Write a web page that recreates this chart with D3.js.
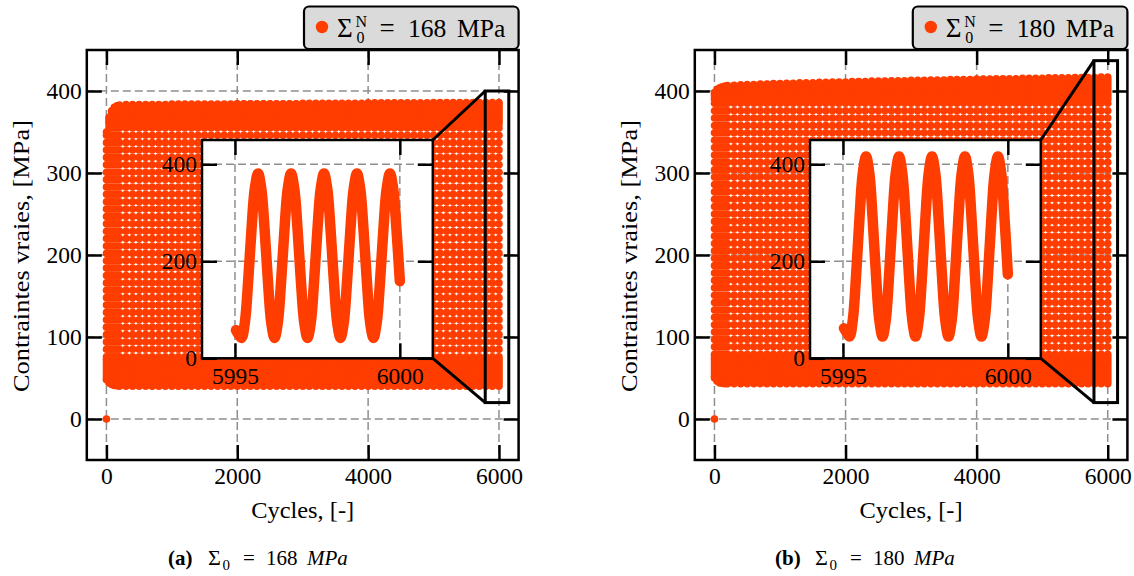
<!DOCTYPE html>
<html><head><meta charset="utf-8">
<script src="https://cdn.jsdelivr.net/npm/d3@7"></script>
<style>
body{margin:0;background:#fff}
svg{display:block}
text{font-family:"Liberation Serif","Times New Roman",serif;fill:#000}
</style>
</head><body>
<svg id="c" width="1134" height="576" font-family="Liberation Serif, serif"></svg>
<script>
// ---------------- data ----------------
const cycles = [1,40,80,120,160,200,300,400,500,600,700,800,900,1000,1100,1200,1300,1400,1500,1600,1700,1800,1900,2000,2100,2200,2300,2400,2500,2600,2700,2800,2900,3000,3100,3200,3300,3400,3500,3600,3700,3800,3900,4000,4100,4200,4300,4400,4500,4600,4700,4800,4900,5000,5100,5200,5300,5400,5500,5600,5700,5800,5900,6000];
const maxA = [350,368,376,380,382,383,
383.5,383.5,383.5,383.5,383.5,383.5,383.5,
384,384,384,384,384,384,384,384,384,384,
384.5,384.5,384.5,384.5,384.5,384.5,384.5,384.5,384.5,384.5,
385,385,385,385,385,385,385,385,385,385,
385.5,385.5,385.5,385.5,385.5,385.5,385.5,385.5,385.5,385.5,
386,386,386,386,386,386,386,386,386,386,386];
const minA = [48,44,42,41,40.5,40,
40,40,40,40,40,40,40,
40,40,40,40,40,40,40,40,40,40,
40,40,40,40,40,40,40,40,40,40,
40,40,40,40,40,40,40,40,40,40,
40,40,40,40,40,40,40,40,40,40,
40,40,40,40,40,40,40,40,40,40,40];
const maxB = [398,402,404,405,406,406.5,
407,407.5,408,408,408.5,408.5,409,
409,409.5,409.5,410,410,410,410.5,410.5,411,411,
411,411.5,411.5,411.5,412,412,412,412.5,412.5,412.5,
413,413,413,413.5,413.5,413.5,414,414,414,414,
414.5,414.5,414.5,415,415,415,415,415.5,415.5,415.5,
415.5,416,416,416,416,416.5,416.5,416.5,416.5,417,417];
const minB = [50,46,44,43.5,43,43,
43,43,43,43,43,43,43,
43,43,43,43,43,43,43,43,43,43,
43,43,43,43,43,43,43,43,43,43,
43,43,43,43,43,43,43,43,43,43,
43,43,43,43,43,43,43,43,43,43,
43,43,43,43,43,43,43,43,43,43,43];
// stress levels recorded within each cycle (MPa)
const levelsA = [40,43,46,49,52,55,58,61,64,67,70,73,76,85,94,103,112,121,130,139,148,157,166,175,184,193,202,211,220,229,238,247,256,265,274,283,292,301,310,319,328,337,346,355,360,363,366,369,372,375,378,381,384,387];
const levelsB = [43,46,49,52,55,58,61,64,67,70,73,76,79,88,97,106,115,124,133,142,151,160,169,178,187,196,205,214,223,232,241,250,259,268,277,286,295,304,313,322,331,340,349,358,367,376,385,390,393,396,399,402,405,408,411,414,417];
const startPoint = [0, 0];
// inset: last five cycles
const insetT = [5995.03,5995.12,5995.2,5995.3,5995.4,5995.5,5995.6,5995.7,5995.8,5995.9,5996.0,5996.1,5996.2,5996.3,5996.4,5996.5,5996.6,5996.7,5996.8,5996.9,5997.0,5997.1,5997.2,5997.3,5997.4,5997.5,5997.6,5997.7,5997.8,5997.9,5998.0,5998.1,5998.2,5998.3,5998.4,5998.5,5998.6,5998.7,5998.8,5998.9,5999.0,5999.1,5999.2,5999.3,5999.4,5999.5,5999.6,5999.7,5999.8,5999.9,6000.0];
const insetA = [58,48,42,74,159,264,349,381,349,264,159,74,42,74,159,264,349,381,349,264,159,74,42,74,159,264,349,381,349,264,159,74,42,74,159,264,349,381,349,264,159,74,42,74,159,264,349,381,349,264,159];
const insetB = [62,52,45,80,173,288,381,416,381,288,173,80,45,80,173,288,381,416,381,288,173,80,45,80,173,288,381,416,381,288,173,80,45,80,173,288,381,416,381,288,173,80,45,80,173,288,381,416,381,288,173];
// ticks
const xTicks = [0,2000,4000,6000];
const yTicks = [0,100,200,300,400];
const insetXTicks = [5995,6000];
const insetYTicks = [0,200,400];
// zoom rectangles [x0,x1,y0,y1]
const rectA = [5790,6150,20,400];
const rectB = [5790,6150,20,437];
const amplitudes = ["168","180"];
const letters = ["(a)","(b)"];

// ---------------- drawing ----------------
const RED = "#ff3d00";
const FONT = "Liberation Serif, Times New Roman, serif";
const svg = d3.select("#c");
const TOP = 50, BOTTOM = 460;
const xDomain = [-300,6300], yDomain = [-50,450];
const insetXDomain = [5994,6001], insetYDomain = [0,450];
const FS = 23.5;

const panels = [
  {id:"a", left:86.8, right:518.6, cyc:cycles, max:maxA, min:minA, levels:levelsA, inset:insetA, rect:rectA, amp:amplitudes[0], letter:letters[0], capStart:168},
  {id:"b", left:694.8, right:1127.4, cyc:cycles, max:maxB, min:minB, levels:levelsB, inset:insetB, rect:rectB, amp:amplitudes[1], letter:letters[1], capStart:775}
];

function styleAxis(g, size){
  g.attr("font-size", null).attr("font-family", FONT);
  g.select(".domain").remove();
  g.selectAll(".tick line").attr("stroke","#000").attr("stroke-width",2.5);
  g.selectAll(".tick text").attr("font-size", size).attr("font-family", FONT).attr("fill","#000");
}

panels.forEach(p => {
  const g = svg.append("g");
  const x = d3.scaleLinear().domain(xDomain).range([p.left, p.right]);
  const y = d3.scaleLinear().domain(yDomain).range([BOTTOM, TOP]);
  const clipId = "clip" + p.id;
  svg.append("clipPath").attr("id", clipId).append("rect")
    .attr("x", p.left).attr("y", TOP).attr("width", p.right - p.left).attr("height", BOTTOM - TOP);

  // grid
  const grid = g.append("g").attr("stroke","#8f8f8f").attr("stroke-width",1.5).attr("stroke-dasharray","8,4");
  grid.selectAll(".gx").data(xTicks).join("line").attr("class","gx")
    .attr("x1", d=>x(d)).attr("x2", d=>x(d)).attr("y1", TOP).attr("y2", BOTTOM);
  grid.selectAll(".gy").data(yTicks).join("line").attr("class","gy")
    .attr("y1", d=>y(d)).attr("y2", d=>y(d)).attr("x1", p.left).attr("x2", p.right);

  // scatter
  const pts = [startPoint];
  p.cyc.forEach((c,i) => {
    const lo = p.min[i], hi = p.max[i];
    pts.push([c, lo]);
    p.levels.forEach(l => { if (l > lo && l < hi) pts.push([c, l]); });
    pts.push([c, hi]);
  });
  g.append("g").attr("clip-path", `url(#${clipId})`)
    .selectAll("circle").data(pts).join("circle")
    .attr("cx", d=>x(d[0])).attr("cy", d=>y(d[1])).attr("r", 3.8).attr("fill", RED);

  // axes (inward ticks on all sides)
  g.append("g").attr("transform",`translate(0,${BOTTOM})`)
    .call(d3.axisBottom(x).tickValues(xTicks).tickSizeInner(-15).tickSizeOuter(0).tickPadding(7.5).tickFormat(d3.format("d")))
    .call(a=>styleAxis(a,FS));
  g.append("g").attr("transform",`translate(0,${TOP})`)
    .call(d3.axisTop(x).tickValues(xTicks).tickSizeInner(-15).tickSizeOuter(0).tickFormat(""))
    .call(a=>styleAxis(a,FS));
  g.append("g").attr("transform",`translate(${p.left},0)`)
    .call(d3.axisLeft(y).tickValues(yTicks).tickSizeInner(-15).tickSizeOuter(0).tickPadding(5).tickFormat(d3.format("d")))
    .call(a=>styleAxis(a,FS));
  g.append("g").attr("transform",`translate(${p.right},0)`)
    .call(d3.axisRight(y).tickValues(yTicks).tickSizeInner(-15).tickSizeOuter(0).tickFormat(""))
    .call(a=>styleAxis(a,FS));
  g.append("rect").attr("x",p.left).attr("y",TOP).attr("width",p.right-p.left).attr("height",BOTTOM-TOP)
    .attr("fill","none").attr("stroke","#000").attr("stroke-width",2.5);

  // axis labels
  g.append("text").attr("x",(p.left+p.right)/2).attr("y",518).attr("text-anchor","middle").attr("font-family",FONT)
    .attr("font-size",FS).attr("textLength",103).attr("lengthAdjust","spacingAndGlyphs").text("Cycles, [-]");
  g.append("text").attr("transform",`translate(${p.left-57.5},256) rotate(-90)`).attr("text-anchor","middle").attr("font-family",FONT)
    .attr("font-size",FS).attr("textLength",272).attr("lengthAdjust","spacingAndGlyphs").text("Contraintes vraies, [MPa]");

  // zoom rectangle
  const rx0 = x(p.rect[0]), rx1 = x(p.rect[1]), ry0 = y(p.rect[2]), ry1 = y(p.rect[3]);
  // inset
  const iL = p.left + 115.2, iR = iL + 230.8, iT = 140, iB = 358.3;
  const xi = d3.scaleLinear().domain(insetXDomain).range([iL, iR]);
  const yi = d3.scaleLinear().domain(insetYDomain).range([iB, iT]);
  const ig = g.append("g");
  ig.append("rect").attr("x",iL).attr("y",iT).attr("width",iR-iL).attr("height",iB-iT).attr("fill","#fff");
  const igrid = ig.append("g").attr("stroke","#8f8f8f").attr("stroke-width",1.5).attr("stroke-dasharray","8,4");
  igrid.selectAll(".gx").data(insetXTicks).join("line").attr("class","gx")
    .attr("x1",d=>xi(d)).attr("x2",d=>xi(d)).attr("y1",iT).attr("y2",iB);
  igrid.selectAll(".gy").data(insetYTicks).join("line").attr("class","gy")
    .attr("y1",d=>yi(d)).attr("y2",d=>yi(d)).attr("x1",iL).attr("x2",iR);
  const series = insetT.map((t,i)=>[t, p.inset[i]]);
  ig.append("path").datum(series)
    .attr("d", d3.line().x(d=>xi(d[0])).y(d=>yi(d[1])).curve(d3.curveCatmullRom))
    .attr("fill","none").attr("stroke",RED).attr("stroke-width",10.5).attr("stroke-linecap","round").attr("stroke-linejoin","round");
  ig.append("g").attr("transform",`translate(0,${iB})`)
    .call(d3.axisBottom(xi).tickValues(insetXTicks).tickSizeInner(-15).tickSizeOuter(0).tickPadding(9).tickFormat(d3.format("d")))
    .call(a=>styleAxis(a,FS));
  ig.append("g").attr("transform",`translate(0,${iT})`)
    .call(d3.axisTop(xi).tickValues(insetXTicks).tickSizeInner(-15).tickSizeOuter(0).tickFormat(""))
    .call(a=>styleAxis(a,FS));
  ig.append("g").attr("transform",`translate(${iL},0)`)
    .call(d3.axisLeft(yi).tickValues(insetYTicks).tickSizeInner(-15).tickSizeOuter(0).tickPadding(5).tickFormat(d3.format("d")))
    .call(a=>styleAxis(a,FS));
  ig.append("g").attr("transform",`translate(${iR},0)`)
    .call(d3.axisRight(yi).tickValues(insetYTicks).tickSizeInner(-15).tickSizeOuter(0).tickFormat(""))
    .call(a=>styleAxis(a,FS));
  ig.append("rect").attr("x",iL).attr("y",iT).attr("width",iR-iL).attr("height",iB-iT)
    .attr("fill","none").attr("stroke","#000").attr("stroke-width",2.5);

  g.append("rect").attr("x",rx0).attr("y",ry1).attr("width",rx1-rx0).attr("height",ry0-ry1)
    .attr("fill","none").attr("stroke","#000").attr("stroke-width",3);
  g.append("line").attr("x1",iR).attr("y1",iT).attr("x2",rx0).attr("y2",ry1).attr("stroke","#000").attr("stroke-width",3);
  g.append("line").attr("x1",iR).attr("y1",iB).attr("x2",rx0).attr("y2",ry0).attr("stroke","#000").attr("stroke-width",3);

  // legend
  const bw = 214.6, bx = p.right - bw;
  const lg = svg.append("g");
  lg.append("rect").attr("x",bx).attr("y",6.5).attr("width",bw).attr("height",42.5).attr("rx",5)
    .attr("fill","#dadada").attr("stroke","#000").attr("stroke-width",2.2);
  lg.append("circle").attr("cx",bx+18).attr("cy",27).attr("r",6.2).attr("fill",RED);
  const lt = lg.append("text").attr("font-family",FONT).attr("font-size",25.6);
  lt.append("tspan").attr("x",bx+33).attr("y",37.3).attr("font-size",27).text("Σ");
  lt.append("tspan").attr("x",bx+51.5).attr("y",26.5).attr("font-size",16).text("N");
  lt.append("tspan").attr("x",bx+52.5).attr("y",43).attr("font-size",16).text("0");
  lt.append("tspan").attr("x",bx+75.5).attr("y",37.3).attr("font-size",27).text("=");
  lt.append("tspan").attr("x",bx+104).attr("y",37.3).text(p.amp);
  lt.append("tspan").attr("x",bx+153).attr("y",37.3).text("MPa");

  // caption
  const cs = p.capStart, cy = 565;
  const ct = svg.append("text").attr("font-family",FONT).attr("font-size",21);
  ct.append("tspan").attr("x",cs).attr("y",cy).attr("font-weight","bold").text(p.letter);
  ct.append("tspan").attr("x",cs+40).attr("y",cy).attr("font-size",22).text("Σ");
  ct.append("tspan").attr("x",cs+54.5).attr("y",cy+4.5).attr("font-size",15).text("0");
  ct.append("tspan").attr("x",cs+75).attr("y",cy).text("=");
  ct.append("tspan").attr("x",cs+98).attr("y",cy).text(p.amp);
  ct.append("tspan").attr("x",cs+139).attr("y",cy).attr("font-style","italic").text("MPa");
});
</script>
</body></html>
